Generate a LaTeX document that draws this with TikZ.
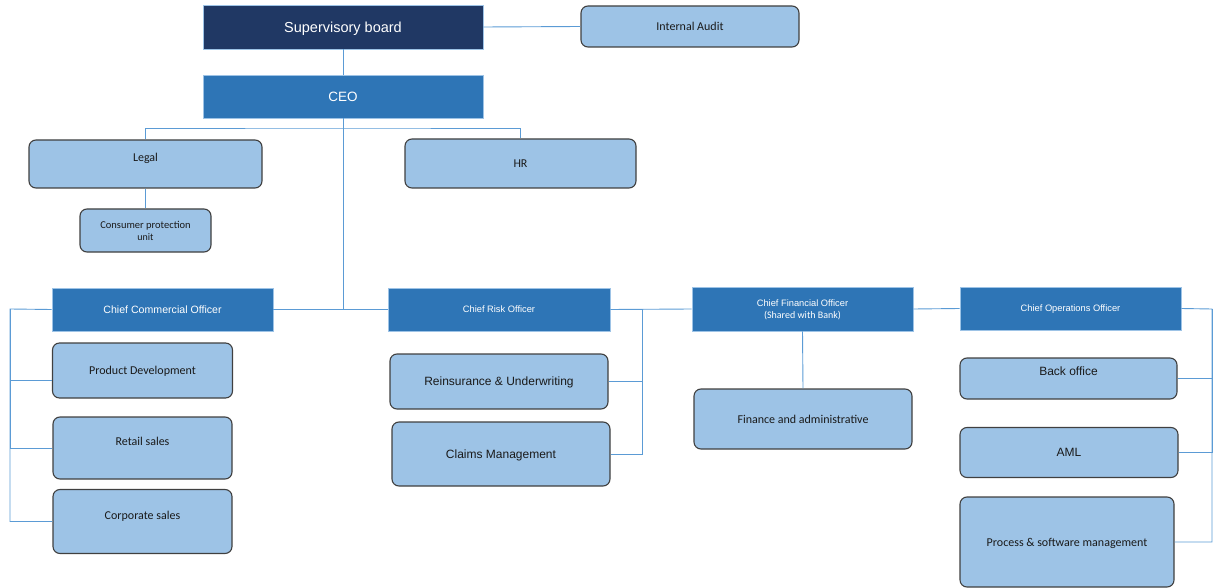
\documentclass[tikz,border=0pt]{standalone}
\usepackage{fontspec}
\setmainfont{Carlito}
\newfontfamily\arial{Liberation Sans}
\usetikzlibrary{calc}
\definecolor{navy}{HTML}{203864}
\definecolor{midblue}{HTML}{2E75B6}
\definecolor{lightblue}{HTML}{9DC3E6}
\definecolor{linecol}{HTML}{5B9BD5}
\definecolor{edgecol}{HTML}{404040}
\definecolor{txt}{HTML}{1A1A1A}
\begin{document}
\begin{tikzpicture}[x=1pt,y=-1pt,
  hdr/.style={fill=midblue, draw=lightblue, line width=0.6pt, text=white, inner sep=0pt, align=center, text depth=0pt},
  topbox/.style={hdr, fill=navy},
  unit/.style={fill=lightblue, draw=edgecol, line width=1.1pt, rounded corners=7pt, inner sep=0pt, align=center, text=txt, text depth=0pt},
  lbl/.style={inner sep=0pt, align=center, text=txt, text depth=0pt},
  conn/.style={draw=linecol, line width=0.9pt},
  fA/.style={font=\arial\fontsize{#1}{#1}\selectfont},
  fC/.style={font=\fontsize{#1}{#1}\selectfont}]
\useasboundingbox (0,0) rectangle (1218,588);

% top level
\node[topbox, fA=14.5, minimum width=280pt, minimum height=44pt] (sb) at (343,27) {Supervisory board};
\node[unit, fC=12, minimum width=218pt, minimum height=41pt] (ia) at (690,26.5) {Internal Audit};
\node[hdr, fA=13.5, minimum width=280pt, minimum height=43pt] (ceo) at (343,96.5) {CEO};

% staff units
\node[unit, minimum width=233pt, minimum height=48pt] (legal) at (145.5,164) {};
\node[lbl, fC=12] (legalt) at (145.5,157.5) {Legal};
\node[unit, fC=12, minimum width=231pt, minimum height=49pt] (hr) at (520.5,163.5) {HR};
\node[unit, minimum width=131pt, minimum height=43pt] (cpu) at (145.5,230.5)
  {\fontsize{10.5}{12.5}\selectfont Consumer protection\\unit};

% officers
\node[hdr, fA=10.6, minimum width=221pt, minimum height=43pt] (cco) at (162.5,309.5) {Chief Commercial Officer};
\node[hdr, fA=9.3, minimum width=222pt, minimum height=43pt] (cro) at (499,309.5) {Chief Risk Officer};
\node[hdr, minimum width=221pt, minimum height=44pt] (cfo) at (802.5,309)
  {\arial\fontsize{9.3}{11}\selectfont Chief Financial Officer\\(Shared with Bank)};
\node[hdr, fA=9.3, minimum width=221pt, minimum height=43pt] (coo) at (1070.5,308.5) {Chief Operations Officer};

% commercial
\node[unit, fC=12, minimum width=180pt, minimum height=55pt] (pd) at (142.5,370.5) {Product Development};
\node[unit, minimum width=179pt, minimum height=62pt] (rs) at (142.5,448) {};
\node[lbl, fC=12] (rst) at (142.5,441) {Retail sales};
\node[unit, minimum width=179pt, minimum height=64pt] (cs) at (142.5,521.5) {};
\node[lbl, fC=12] (cst) at (142.5,515) {Corporate sales};

% risk
\node[unit, fA=12, minimum width=218pt, minimum height=55pt] (ru) at (499,381.5) {Reinsurance \& Underwriting};
\node[unit, fA=12, minimum width=218pt, minimum height=64pt] (cm) at (501,454) {Claims Management};

% finance
\node[unit, fC=12, minimum width=218pt, minimum height=60pt] (fa) at (803,419) {Finance and administrative};

% operations
\node[unit, minimum width=217pt, minimum height=41pt] (bo) at (1068.5,378.5) {};
\node[lbl, fA=12] (bot) at (1068.5,371) {Back office};
\node[unit, fA=12, minimum width=218pt, minimum height=50pt] (aml) at (1069,452.5) {AML};
\node[unit, fC=12, minimum width=214pt, minimum height=90pt] (psm) at (1067,542) {Process \& software management};

% connectors
\coordinate (branch) at (343,128);
\coordinate (hub) at (343,309);
\coordinate (lbus) at (10,309);
\coordinate (rbus) at (642,309);
\coordinate (obus) at (1212,309);

\draw[conn] (sb.east) -- (ia.west);
\draw[conn] (sb.south) -- (ceo.north);
\draw[conn] (ceo.south) -- (hub);
\draw[conn] (legal.north) |- (branch) -| (hr.north);
\draw[conn] (legal.south) -- (cpu.north);
\draw[conn] (cco.east) -- (cro.west);
\draw[conn] (cro.east) -- (cfo.west);
\draw[conn] (cfo.east) -- (coo.west);
\draw[conn] (cco.west) -- (lbus) |- (cs.west);
\draw[conn] ([yshift=-9.5pt]pd.west) -| (lbus);
\draw[conn] (rs.west) -| (lbus);
\draw[conn] (ru.east) -| (rbus);
\draw[conn] (cm.east) -| (rbus);
\draw[conn] (cfo.south) -- (fa.north);
\draw[conn] (coo.east) -- (obus) |- (psm.east);
\draw[conn] (bo.east) -| (obus);
\draw[conn] (aml.east) -| (obus);
\end{tikzpicture}
\end{document}
